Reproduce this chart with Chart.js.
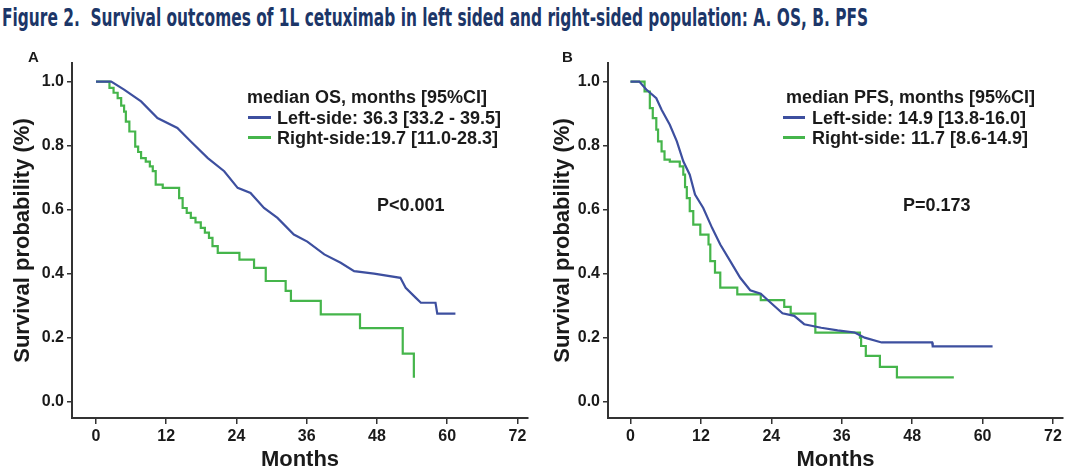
<!DOCTYPE html>
<html>
<head>
<meta charset="utf-8">
<script src="https://cdn.jsdelivr.net/npm/chart.js@4.4.0/dist/chart.umd.min.js"></script>
<style>
    body { margin: 0; background: #fff; width: 1080px; height: 471px; overflow: hidden; position: relative;
           font-family: "Liberation Sans", Arial, sans-serif; }
    canvas { position: absolute; top: 0; }
    .t { position: absolute; font-weight: bold; white-space: nowrap; color: #1a1a1a; font-size: 18px; line-height: 20px; }
    .seg { position: absolute; height: 3px; }
    #title { position: absolute; left: 2px; top: 5px; font-family: "Liberation Sans Narrow", "DejaVu Sans Condensed", sans-serif;
             font-weight: bold; font-size: 24px; line-height: 26px; color: #1c3668; white-space: nowrap; transform-origin: 0 0; }
</style>
</head>
<body>
<div id="title">Figure 2.&nbsp; Survival outcomes of 1L cetuximab in left sided and right-sided population: A. OS, B. PFS</div>

<canvas id="osChart" width="540" height="471" style="left:0"></canvas>
<canvas id="pfsChart" width="540" height="471" style="left:540px"></canvas>

<div class="t" style="left:28px;top:47px;font-size:15px">A</div>
<div class="t" style="left:562px;top:47px;font-size:15px">B</div>

<div class="t" style="left:247px;top:87px">median OS, months [95%CI]</div>
<div class="seg" style="left:248px;top:116px;width:23px;background:#3d4f9f"></div>
<div class="t" style="left:277px;top:108px">Left-side: 36.3 [33.2 - 39.5]</div>
<div class="seg" style="left:248px;top:136px;width:23px;background:#45b54b"></div>
<div class="t" style="left:277px;top:128px">Right-side:19.7 [11.0-28.3]</div>
<div class="t" style="left:377px;top:195px">P&lt;0.001</div>

<div class="t" style="left:786px;top:87px">median PFS, months [95%CI]</div>
<div class="seg" style="left:783px;top:116px;width:22px;background:#3d4f9f"></div>
<div class="t" style="left:812px;top:108px">Left-side: 14.9 [13.8-16.0]</div>
<div class="seg" style="left:783px;top:136px;width:22px;background:#45b54b"></div>
<div class="t" style="left:812px;top:128px">Right-side: 11.7 [8.6-14.9]</div>
<div class="t" style="left:903px;top:195px">P=0.173</div>

<script>
const monthTicks = [0, 12, 24, 36, 48, 60, 72];
const probTicks = [0, 0.2, 0.4, 0.6, 0.8, 1.0];

// A. overall survival, left-sided
const osLeftMonths = [0, 2.6, 4.8, 7.7, 10.5, 13.9, 16.2, 19.1, 21.9, 24.2, 26.4, 28.7, 31.0, 33.8, 36.1, 39.0, 41.8, 44.1, 47.5, 52.0, 52.9, 54.6, 55.5, 58.0, 58.3, 61.4];
const osLeftSurv   = [1.0, 1.0, 0.975, 0.938, 0.886, 0.855, 0.813, 0.761, 0.72, 0.668, 0.652, 0.605, 0.574, 0.522, 0.50, 0.46, 0.434, 0.408, 0.40, 0.387, 0.356, 0.325, 0.309, 0.309, 0.275, 0.275];

// A. overall survival, right-sided
const osRightMonths = [0, 2.3, 3.0, 3.7, 4.3, 4.8, 5.1, 5.7, 6.7, 7.2, 7.7, 8.5, 9.2, 9.7, 10.2, 11.4, 14.2, 14.8, 15.5, 16.2, 17.0, 17.9, 18.6, 19.3, 19.9, 20.8, 24.5, 27.0, 29.0, 32.4, 33.3, 38.4, 45.1, 52.4, 54.3, 54.5];
const osRightSurv   = [1.0, 0.98, 0.965, 0.948, 0.925, 0.906, 0.875, 0.844, 0.797, 0.78, 0.761, 0.75, 0.735, 0.72, 0.678, 0.668, 0.636, 0.605, 0.59, 0.574, 0.56, 0.543, 0.528, 0.512, 0.486, 0.465, 0.444, 0.418, 0.377, 0.346, 0.315, 0.273, 0.23, 0.15, 0.078, 0.078];

// B. progression-free survival, left-sided
const pfsLeftMonths = [0, 1.5, 2.7, 4.4, 5.3, 6.7, 7.9, 9.0, 10.1, 11.0, 12.4, 13.9, 15.3, 17.0, 18.7, 20.4, 22.2, 23.9, 25.9, 27.9, 29.6, 32.5, 35.3, 38.2, 39.9, 42.8, 51.4, 51.5, 61.7];
const pfsLeftSurv   = [1.0, 1.0, 0.975, 0.948, 0.912, 0.865, 0.813, 0.751, 0.709, 0.647, 0.605, 0.543, 0.491, 0.439, 0.387, 0.348, 0.337, 0.309, 0.276, 0.268, 0.242, 0.231, 0.223, 0.216, 0.20, 0.185, 0.185, 0.173, 0.173];

// B. progression-free survival, right-sided
const pfsRightMonths = [0, 1.5, 2.4, 3.3, 3.8, 4.4, 4.7, 5.3, 5.8, 6.7, 8.4, 9.0, 9.3, 9.6, 10.1, 10.7, 11.9, 13.3, 13.6, 14.4, 15.3, 18.2, 22.2, 26.2, 27.3, 31.5, 39.1, 39.3, 40.1, 42.5, 45.4, 55.1];
const pfsRightSurv   = [1.0, 1.0, 0.969, 0.917, 0.886, 0.85, 0.813, 0.782, 0.756, 0.75, 0.735, 0.709, 0.67, 0.636, 0.595, 0.553, 0.522, 0.491, 0.439, 0.403, 0.356, 0.335, 0.317, 0.296, 0.275, 0.216, 0.20, 0.174, 0.143, 0.109, 0.076, 0.076];

const BLUE = '#3d4f9f';
const GREEN = '#45b54b';
const AXIS = '#333333';
const FONT = '"Liberation Sans", Arial, sans-serif';

function toPoints(months, surv) {
    return months.map((m, i) => ({ x: m, y: surv[i] }));
}

function makeChart(id, left, right, xMin, xMax, yWidth, padRight) {
    new Chart(document.getElementById(id), {
        type: 'line',
        data: {
            datasets: [
                { data: left, borderColor: BLUE, borderWidth: 2.2, pointRadius: 0, stepped: false, tension: 0 },
                { data: right, borderColor: GREEN, borderWidth: 2.2, pointRadius: 0, stepped: 'before' }
            ]
        },
        options: {
            responsive: false,
            animation: false,
            layout: { padding: { top: 63, right: padRight, left: 0, bottom: 0 } },
            plugins: { legend: { display: false }, tooltip: { enabled: false } },
            scales: {
                x: {
                    type: 'linear', min: xMin, max: xMax,
                    afterFit: s => { s.height = 53; },
                    afterBuildTicks: s => { s.ticks = monthTicks.map(v => ({ value: v })); },
                    grid: { drawOnChartArea: false, drawTicks: true, tickLength: 6, color: AXIS, lineWidth: 1.5 },
                    border: { display: true, color: AXIS, width: 2 },
                    ticks: { color: '#1a1a1a', padding: 3, maxRotation: 0, font: { family: FONT, size: 16, weight: 'bold' } },
                    title: { display: true, text: 'Months', color: '#1a1a1a', padding: 0,
                             font: { family: FONT, size: 22, weight: 'bold', lineHeight: 1 } }
                },
                y: {
                    type: 'linear', min: -0.051, max: 1.058,
                    afterFit: s => { s.width = yWidth; },
                    afterBuildTicks: s => { s.ticks = probTicks.map(v => ({ value: v })); },
                    grid: { drawOnChartArea: false, drawTicks: true, tickLength: 5, color: AXIS, lineWidth: 1.5 },
                    border: { display: true, color: AXIS, width: 2 },
                    ticks: { color: '#1a1a1a', padding: 3, callback: v => v.toFixed(1),
                             font: { family: FONT, size: 16, weight: 'bold' } },
                    title: { display: true, text: 'Survival probability (%)', color: '#1a1a1a', padding: { top: 10, bottom: 0 },
                             font: { family: FONT, size: 22, weight: 'bold', lineHeight: 1.2 } }
                }
            }
        }
    });
}

makeChart('osChart', toPoints(osLeftMonths, osLeftSurv), toPoints(osRightMonths, osRightSurv), -4.1, 73.8, 72, 12);
makeChart('pfsChart', toPoints(pfsLeftMonths, pfsLeftSurv), toPoints(pfsRightMonths, pfsRightSurv), -3.83, 73.7, 68, 17);

// squeeze the condensed title to the reference width
const title = document.getElementById('title');
title.style.transform = 'scaleX(' + (866 / title.offsetWidth) + ')';
</script>
</body>
</html>
